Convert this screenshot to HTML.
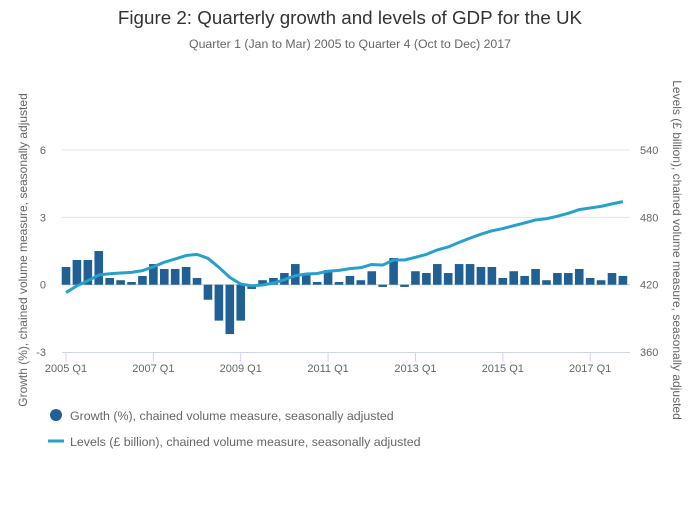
<!DOCTYPE html>
<html><head><meta charset="utf-8"><style>
body{margin:0;background:#fff;font-family:"Liberation Sans",sans-serif}
svg text{font-family:"Liberation Sans",sans-serif}
</style></head><body>
<svg id="c" width="700" height="502">
<text x="350" y="24" text-anchor="middle" font-size="18.8" fill="#333">Figure 2: Quarterly growth and levels of GDP for the UK</text>
<text x="350" y="48" text-anchor="middle" font-size="12.3" fill="#666">Quarter 1 (Jan to Mar) 2005 to Quarter 4 (Oct to Dec) 2017</text>
<g id="grid"></g><g id="bars"></g><g id="line"></g><g id="axes"></g>
<text transform="translate(27,250) rotate(-90)" text-anchor="middle" font-size="12" fill="#666">Growth (%), chained volume measure, seasonally adjusted</text>
<text transform="translate(673,250) rotate(90)" text-anchor="middle" font-size="12" fill="#666">Levels (£ billion), chained volume measure, seasonally adjusted</text>
<g><circle cx="56" cy="415" r="6" fill="#206095"/><text x="70" y="420" font-size="12.4" fill="#666">Growth (%), chained volume measure, seasonally adjusted</text></g>
<g><line x1="48" y1="441" x2="64" y2="441" stroke="#27a0cc" stroke-width="3"/><text x="70" y="446" font-size="12.4" fill="#666">Levels (£ billion), chained volume measure, seasonally adjusted</text></g>
</svg>
<script>
const growth=[0.79,1.1,1.1,1.5,0.3,0.2,0.12,0.39,0.92,0.7,0.7,0.79,0.3,-0.67,-1.6,-2.2,-1.6,-0.19,0.2,0.3,0.52,0.92,0.52,0.12,0.65,0.12,0.39,0.2,0.6,-0.1,1.19,-0.1,0.6,0.52,0.92,0.52,0.92,0.92,0.79,0.79,0.3,0.6,0.39,0.7,0.2,0.52,0.52,0.7,0.3,0.2,0.52,0.39];
const levels=[413,419,423.5,428.6,429.8,430.4,431,432.5,436,440,443,446,447,443.5,435.5,426.5,420.6,419,419.7,421.5,424.5,428,429.5,430,432,432.8,434.3,435.2,438,437.5,442,442,444.4,447,451,453.6,457.7,461.5,465,468,470,472.6,475,477.7,478.8,481,483.6,486.9,488.4,489.8,492,494];
const leftTicks=[6,3,0,-3];
const rightTicks=[540,480,420,360];
const xTickLabels=["2005 Q1","2007 Q1","2009 Q1","2011 Q1","2013 Q1","2015 Q1","2017 Q1"];
const xTickIdx=[0,8,16,24,32,40,48];
const NS="http://www.w3.org/2000/svg";
const x=i=>66+i*10.92;
const yL=v=>284.7-v*22.45;
const yR=v=>284.7-(v-420)*22.45/20;
function mk(t,a,p){const e=document.createElementNS(NS,t);for(const k in a)e.setAttribute(k,a[k]);p.appendChild(e);return e;}
const grid=document.getElementById('grid'),bars=document.getElementById('bars'),line=document.getElementById('line'),axes=document.getElementById('axes');
leftTicks.forEach((v,i)=>{
 if(v!==-3){const g=mk('line',{x1:62,x2:630,y1:yL(v),y2:yL(v),stroke:v===0?'#ccc':'#e6e6e6'},grid);
 
 }
 const t=mk('text',{x:46,y:yL(v)+4,'text-anchor':'end','font-size':11,fill:'#666'},axes);t.textContent=v;
 
 
});
rightTicks.forEach(v=>{
 const t=mk('text',{x:640,y:yR(v)+4,'font-size':11,fill:'#666'},axes);t.textContent=v;
 
 
});
const ax=mk('line',{x1:62,x2:630,y1:352.5,y2:352.5,stroke:'#ccd6eb'},axes);


xTickIdx.forEach((q,i)=>{
 mk('line',{x1:x(q),x2:x(q),y1:352,y2:362,stroke:'#ccd6eb'},axes);
 const t=mk('text',{x:x(q),y:372,'text-anchor':'middle','font-size':11,fill:'#666'},axes);t.textContent=xTickLabels[i];
 
 
});
growth.forEach((v,i)=>{
 const y0=yL(0),y1=yL(v);
 const r=mk('rect',{x:x(i)-4.3,width:8.6,y:Math.min(y0,y1),height:Math.max(1,Math.abs(y1-y0)),fill:'#206095'},bars);
 
 
});
const p=mk('path',{d:levels.map((v,i)=>(i?'L':'M')+x(i)+','+yR(v)).join(''),fill:'none',stroke:'#27a0cc','stroke-width':3,'stroke-linejoin':'round'},line);


</script>
</body></html>
